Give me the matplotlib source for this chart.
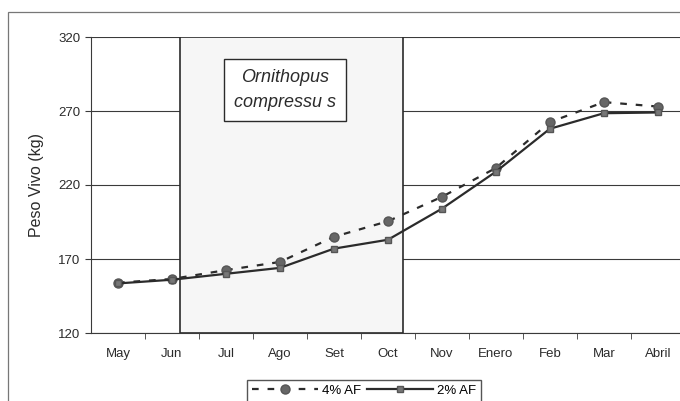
import matplotlib
matplotlib.use("Agg")
import matplotlib.pyplot as plt
from matplotlib.patches import Rectangle
import numpy as np

plt.rcParams["font.family"] = ["Liberation Sans", "DejaVu Sans"]

months = ["May", "Jun", "Jul", "Ago", "Set", "Oct", "Nov", "Enero", "Feb", "Mar", "Abril"]
af4 = [154, 156.5, 162.5, 168, 185, 195.5, 212, 231.5, 262.5, 276, 273]
af2 = [153.5, 156, 160, 164, 177, 183, 204, 229, 258, 268.5, 269]
yticks = [120, 170, 220, 270, 320]

INK = "#2b2b2b"
GRID = "#3a3a3a"

fig = plt.figure(figsize=(6.8, 4.01), dpi=100)
ax = fig.add_axes([91 / 680, 1 - 333 / 401, 1 - 91 / 680, (333 - 37) / 401])
x = np.arange(len(months))

# outer chart frame
fig.add_artist(Rectangle((8 / 680, -0.1), 1.1, 1.1 - 12 / 401, transform=fig.transFigure,
                         fill=False, ec="#777777", lw=0.9))

# shaded period box
ax.add_patch(Rectangle((1.15, 120), 5.28 - 1.15, 200, fill=True, fc="#f6f6f6",
                       ec=INK, lw=1.2, zorder=2))

for v in yticks:
    ax.axhline(v, color=GRID, lw=0.8, zorder=1)

ax.plot(x, af4, ls=(0, (3, 4)), color=INK, lw=1.6, marker="o", ms=6.5,
        mfc="#666666", mec="#555555", label="4% AF", zorder=4)
ax.plot(x, af2, ls="-", color=INK, lw=1.6, marker="s", ms=5,
        mfc="#777777", mec="#555555", label="2% AF", zorder=4)

ax.set_xlim(-0.5, 10.41)
ax.set_ylim(120, 320)
ax.set_yticks(yticks)
ax.set_xticks(x)
ax.set_xticklabels(months)
ax.set_xticks(x[:-1] + 0.5, minor=True)
ax.tick_params(axis="x", which="major", length=0, pad=11, labelsize=9.5, colors=INK)
ax.tick_params(axis="x", which="minor", length=4, direction="out", color=GRID)
ax.tick_params(axis="y", length=4, direction="out", labelsize=9.5, colors=INK, color=GRID)
for s in ["top", "right"]:
    ax.spines[s].set_visible(False)
ax.spines["left"].set_color(GRID)
ax.spines["bottom"].set_color(GRID)
ax.set_ylabel("Peso Vivo (kg)", fontsize=11.5, color=INK, labelpad=10)

# species label box
ax.text(3.1, 284, "Ornithopus\ncompressu s", style="italic", fontsize=13,
        ha="center", va="center", color=INK, linespacing=1.6, zorder=5,
        bbox=dict(boxstyle="square,pad=0.55", fc="white", ec=INK, lw=1.0))

leg = fig.legend(loc="upper center", bbox_to_anchor=(364 / 680, 1 - 373 / 401),
                 ncol=2, frameon=True, fontsize=9.5, handlelength=5,
                 columnspacing=0.4, handletextpad=0.3, borderpad=0.4,
                 fancybox=False, edgecolor=INK)
leg.get_frame().set_linewidth(1.0)

fig.savefig("out.png", dpi=100)
